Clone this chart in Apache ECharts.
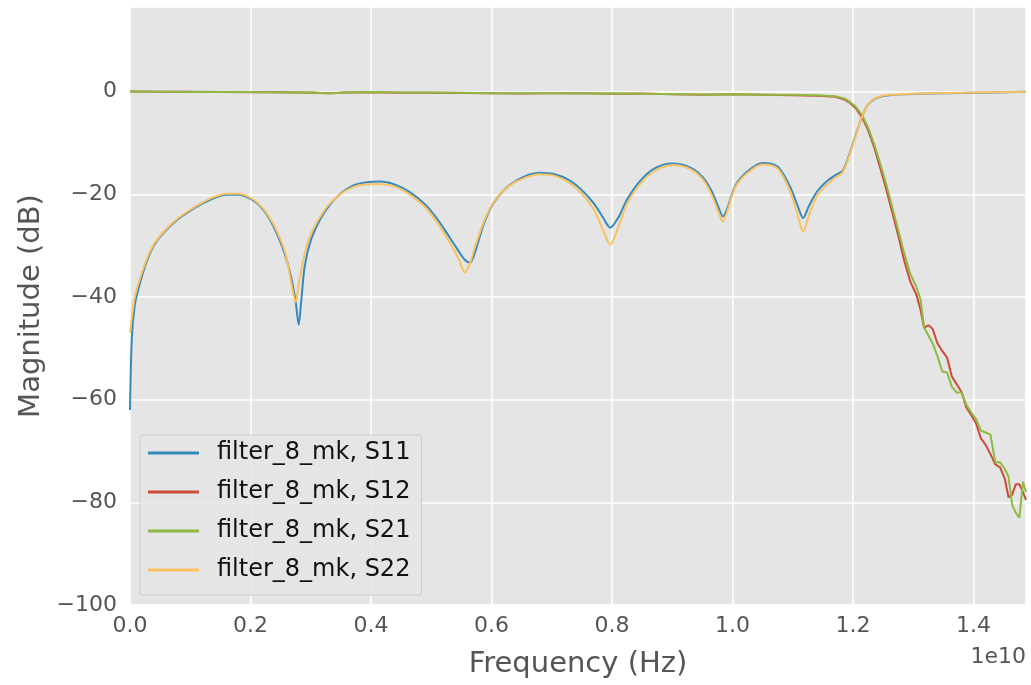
<!DOCTYPE html>
<html lang="en">
<head>
    <meta charset="UTF-8">
    <title>filter_8_mk S-parameters</title>
    <style>
        html, body { margin: 0; padding: 0; background: #fff; }
        .chart { width: 1031px; height: 685px; }
    </style>
    <script src="https://cdn.jsdelivr.net/npm/echarts/dist/echarts.min.js"></script>
</head>
<body>
    <div class="chart"></div>
    <script>

        // frequency grids in GHz
        var reflFreq = [0, 0.03, 0.08, 0.15, 0.25, 0.35, 0.45, 0.6, 0.78, 1.0, 1.2, 1.4, 1.6, 1.8, 2.0, 2.15, 2.3, 2.45, 2.58, 2.68,
            2.75, 2.8, 2.84, 2.9, 3.0, 3.15, 3.3, 3.5, 3.7, 3.9, 4.15, 4.4, 4.65, 4.9, 5.1, 5.3, 5.45, 5.56, 5.64, 5.72,
            5.85, 5.97, 6.1, 6.3, 6.55, 6.8, 7.05, 7.3, 7.5, 7.7, 7.85, 7.97, 8.1, 8.25, 8.45, 8.7, 9.0, 9.3, 9.5, 9.65,
            9.76, 9.84, 9.92, 10.05, 10.25, 10.5, 10.75, 10.95, 11.08, 11.17, 11.27, 11.4, 11.55, 11.7, 11.82, 11.9, 12.0, 12.08, 12.15, 12.23,
            12.32, 12.42, 12.6, 12.9, 13.3, 13.8, 14.3, 14.87];

        var transFreq = [0, 0.5, 1.0, 1.5, 2.0, 2.5, 3.0, 3.3, 3.6, 4.0, 4.5, 5.0, 5.5, 6.0, 6.5, 7.0, 7.5, 8.0, 8.5, 9.0,
            9.5, 10.0, 10.5, 11.0, 11.4, 11.7, 11.85, 11.95, 12.05, 12.15, 12.25, 12.35, 12.45, 12.55, 12.65, 12.75, 12.85, 12.95, 13.05, 13.12,
            13.18, 13.25, 13.32, 13.4, 13.48, 13.56, 13.64, 13.72, 13.8, 13.88, 13.96, 14.04, 14.12, 14.2, 14.28, 14.36, 14.44, 14.52, 14.58, 14.64,
            14.7, 14.76, 14.82, 14.87];

        // magnitudes in dB
        var s11Db = [-62, -48, -41.5, -38, -34, -31, -29, -27, -25, -23.2, -21.8, -20.7, -20.1, -20.1, -20.9, -22.2, -24.5, -28, -32, -36.5,
            -41, -45.4, -41, -34, -29, -25, -22.3, -19.8, -18.3, -17.7, -17.5, -18.1, -19.6, -22, -24.8, -28.3, -31, -32.8, -33.3, -31.5,
            -26.5, -23, -20.6, -18.2, -16.5, -15.8, -16.1, -17.3, -19.2, -21.8, -24.5, -26.5, -24.6, -21, -17.6, -15, -14, -14.8, -16.6, -19.3,
            -22.3, -24.3, -22.5, -18.2, -15.5, -13.9, -14.6, -18.4, -22.2, -24.6, -22.2, -19.5, -17.6, -16.3, -15.5, -13.5, -10, -7.2, -4.9, -2.8,
            -1.7, -1.1, -0.7, -0.5, -0.35, -0.25, -0.15, 0];

        var s22Db = [-47, -44, -40, -37, -33.5, -30.7, -28.8, -26.8, -24.8, -23, -21.6, -20.5, -19.9, -19.9, -20.7, -22, -24.2, -27.5, -31.5, -37.5,
            -41, -37.5, -35, -31.5, -27.8, -24.5, -22, -19.9, -18.6, -18.1, -18, -18.5, -20.1, -22.5, -25.5, -29.3, -32.5, -35.2, -33.5, -30.5,
            -26, -22.8, -20.5, -18.3, -16.8, -16.1, -16.4, -17.8, -19.9, -23, -27, -29.8, -26.5, -21.8, -18.2, -15.5, -14.3, -15.1, -17, -20,
            -23.3, -25.3, -23, -18.5, -15.8, -14.2, -15, -19.2, -24, -27.3, -24, -20.3, -18.3, -16.8, -15.8, -13.8, -10.2, -7.3, -4.9, -2.8,
            -1.6, -1.0, -0.6, -0.45, -0.3, -0.2, -0.1, 0];

        var s12Db = [0.05, 0, 0, -0.05, -0.1, -0.1, -0.2, -0.3, -0.15, -0.1, -0.2, -0.2, -0.25, -0.3, -0.35, -0.3, -0.3, -0.4, -0.35, -0.5,
            -0.6, -0.5, -0.6, -0.7, -0.8, -1.0, -1.5, -2.2, -3.3, -5.0, -7.5, -10.8, -14.8, -19, -23.5, -28, -33, -37, -39.5, -42.5,
            -46, -45.5, -46.2, -49, -50.5, -51.8, -55.5, -57, -58.5, -61.5, -63, -64.6, -67.5, -68.8, -70.6, -72.6, -73.2, -75.5, -79, -78.5,
            -76.5, -76.5, -78, -79.5];

        var s21Db = [0.05, 0, -0.05, -0.05, -0.05, -0.15, -0.1, -0.35, -0.1, -0.05, -0.15, -0.15, -0.2, -0.3, -0.3, -0.3, -0.35, -0.3, -0.4, -0.45,
            -0.55, -0.5, -0.6, -0.6, -0.7, -0.9, -1.3, -2.0, -3.0, -4.6, -7.0, -10.2, -14, -18, -22.5, -27, -31.5, -35.5, -38, -40.5,
            -46, -47.5, -49, -51.5, -54.5, -54.7, -57.5, -58.6, -58.6, -61, -62.5, -63.8, -66, -66.4, -66.8, -72.2, -72.2, -73.5, -75, -80.5,
            -82, -83, -76, -78];

        var seriesNames = ['filter_8_mk, S11', 'filter_8_mk, S12', 'filter_8_mk, S21', 'filter_8_mk, S22'];
        var seriesColors = ['#348ABD', '#CC4A38', '#8EBA42', '#FBC15E'];
        // reflection curves are smooth arcs, transmission stopband is jagged
        var seriesSmooth = [0.3, 0, 0, 0.3];

        // pair GHz frequencies with dB values, in Hz
        function pairUp(freq, db) {
            return freq.map(function (f, i) { return [f * 1e9, db[i]]; });
        }

        function minusSign(s) {
            return String(s).replace('-', '\u2212');
        }

        var seriesData = [
            pairUp(reflFreq, s11Db),
            pairUp(transFreq, s12Db),
            pairUp(transFreq, s21Db),
            pairUp(reflFreq, s22Db)
        ];

        var fontFamily = 'DejaVu Sans';

        var option = {
            animation: false,
            backgroundColor: '#ffffff',
            grid: {
                left: 130,
                right: 5,
                top: 7,
                bottom: 80,
                show: true,
                backgroundColor: '#E5E5E5',
                borderWidth: 0
            },
            legend: {
                orient: 'vertical',
                left: 140,
                top: 435,
                padding: [4, 11, 11, 8],
                itemGap: 11,
                itemWidth: 51,
                itemHeight: 3,
                icon: 'rect',
                backgroundColor: 'rgba(229,229,229,0.8)',
                borderColor: '#CCCCCC',
                borderWidth: 1,
                borderRadius: 2,
                textStyle: {
                    fontFamily: fontFamily,
                    fontSize: 24,
                    lineHeight: 28,
                    color: '#111',
                    padding: [0, 0, 0, 13]
                },
                data: seriesNames
            },
            xAxis: {
                type: 'value',
                min: 0,
                max: 1.487e10,
                interval: 2e9,
                name: 'Frequency (Hz)',
                nameLocation: 'middle',
                nameGap: 45,
                nameTextStyle: { fontFamily: fontFamily, fontSize: 29, color: '#555' },
                axisLine: { show: false },
                axisTick: { show: false },
                axisLabel: {
                    margin: 10,
                    fontFamily: fontFamily,
                    fontSize: 22,
                    color: '#555',
                    showMaxLabel: false,
                    formatter: function (v) {
                        if (Math.abs(v / 2e9 - Math.round(v / 2e9)) > 1e-6) return '';
                        return (v / 1e10).toFixed(1);
                    }
                },
                splitLine: { show: true, lineStyle: { color: '#ffffff', width: 1.5 } }
            },
            yAxis: {
                type: 'value',
                min: -100,
                max: 16.5,
                interval: 20,
                name: 'Magnitude (dB)',
                nameLocation: 'middle',
                nameGap: 84,
                nameTextStyle: { fontFamily: fontFamily, fontSize: 29, color: '#555' },
                axisLine: { show: false },
                axisTick: { show: false },
                axisLabel: {
                    margin: 13,
                    fontFamily: fontFamily,
                    fontSize: 22,
                    color: '#555',
                    formatter: function (v) {
                        if (v % 20 !== 0) return '';
                        return minusSign(v);
                    }
                },
                splitLine: { show: true, lineStyle: { color: '#ffffff', width: 1.5 } }
            },
            graphic: [{
                type: 'text',
                right: 5,
                top: 646,
                style: { text: '1e10', fontFamily: fontFamily, fontSize: 22, fill: '#555' }
            }],
            series: seriesNames.map(function (name, i) {
                return {
                    name: name,
                    type: 'line',
                    data: seriesData[i],
                    smooth: seriesSmooth[i],
                    showSymbol: false,
                    symbol: 'none',
                    lineStyle: { width: 2, color: seriesColors[i] },
                    itemStyle: { color: seriesColors[i] }
                };
            })
        };

        var chart = echarts.init(document.querySelector('.chart'));
        chart.setOption(option);
    </script>
</body>
</html>
